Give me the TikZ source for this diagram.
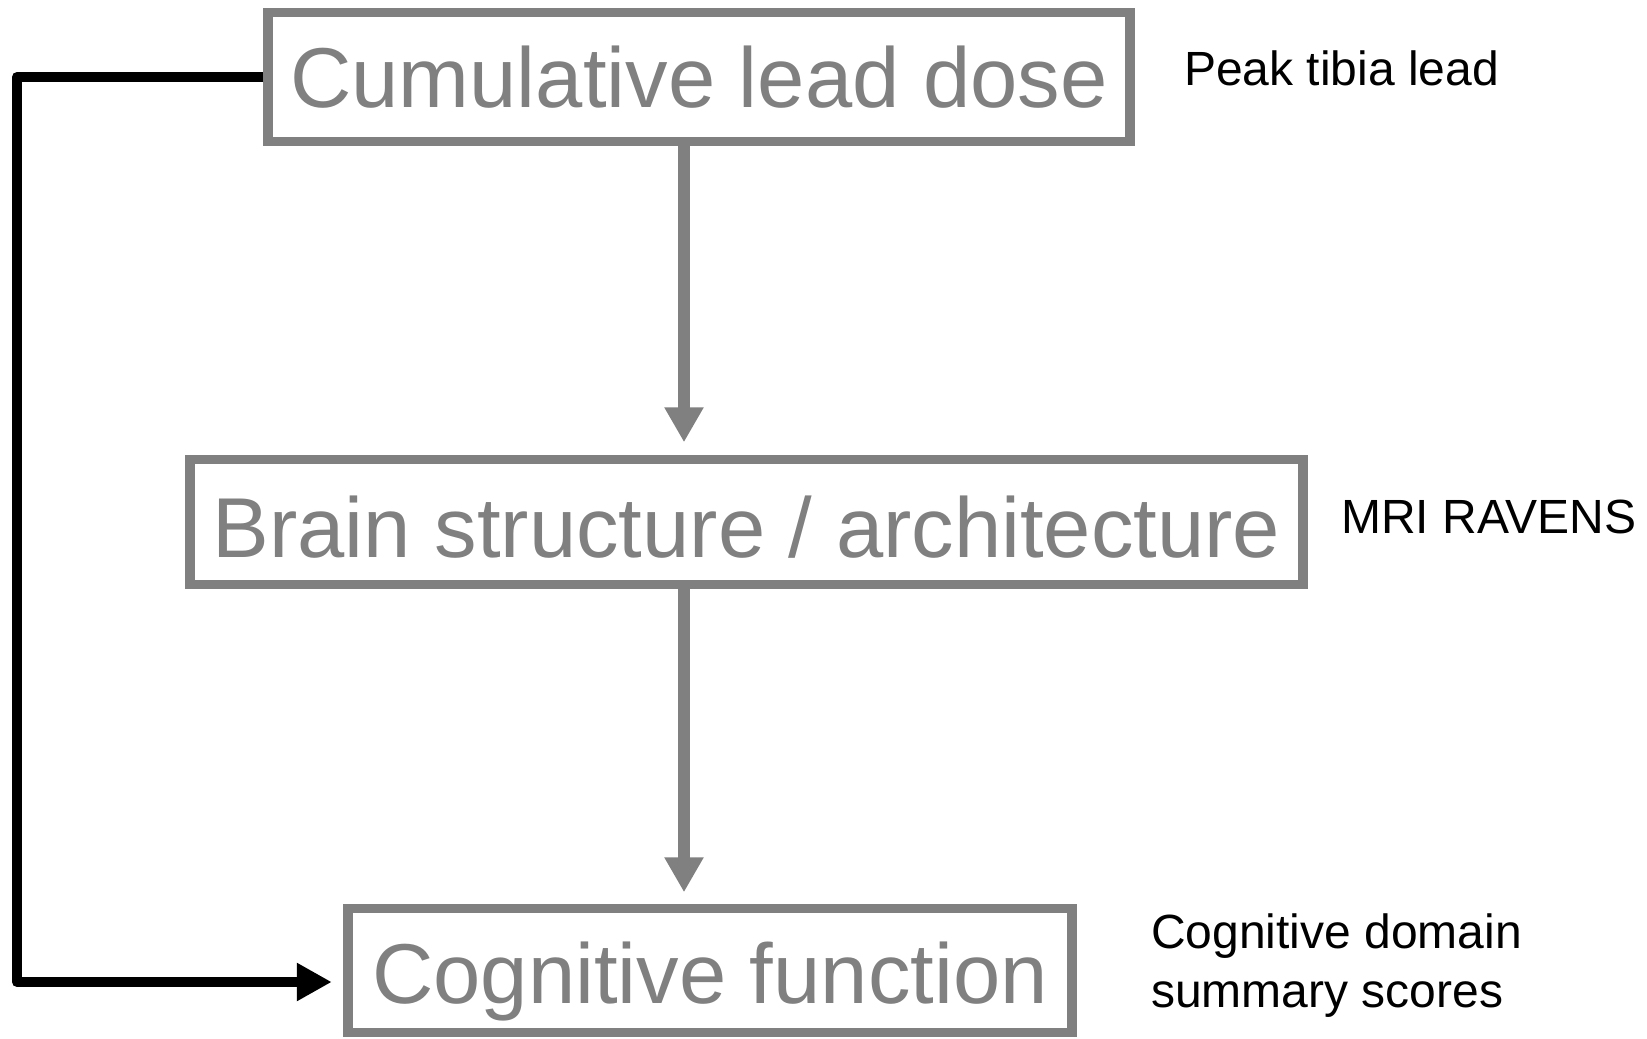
\documentclass[tikz,border=0pt]{standalone}
\usepackage{fontspec}
\setmainfont{Liberation Sans}
\usetikzlibrary{arrows.meta}
\definecolor{boxgray}{RGB}{128,128,128}
\tikzset{
  box/.style={draw=boxgray, line width=9.5pt, text=boxgray, font=\fontsize{85}{100}\selectfont,
    inner sep=0pt, text depth=0pt},
  side/.style={text=black, font=\fontsize{48}{59}\selectfont, inner sep=0pt, anchor=base west, align=left},
  grayarrow/.style={draw=boxgray, line width=12pt, -{Triangle[length=35pt,width=37pt]}},
  blackarrow/.style={draw=black, line width=10pt, line join=round, -{Triangle[length=35pt,width=36pt]}}
}
\begin{document}
\begin{tikzpicture}[x=1pt,y=-1pt]
\useasboundingbox (0,0) rectangle (1647,1039);
\node[box, text height=60pt, minimum width=862pt, minimum height=129pt] (dose) at (699,77) {Cumulative lead dose};
\node[box, text height=70pt, minimum width=1113pt, minimum height=125pt] (brain) at (746.5,522) {Brain structure / architecture};
\node[box, text height=66pt, minimum width=724pt, minimum height=124pt] (cog) at (710,970.5) {Cognitive function};
\node[side] (tibia) at (1184,85) {Peak tibia lead};
\node[side] (mri) at (1341,533) {MRI RAVENS};
\node[side] (scores) at (1151,1007) {Cognitive domain\\summary scores};
\coordinate (corner) at (17,77);
\draw[grayarrow, shorten >=12.5pt] (dose.south -| 684,0) -- (brain.north -| 684,0);
\draw[grayarrow, shorten >=11.5pt] (brain.south -| 684,0) -- (cog.north -| 684,0);
\draw[blackarrow, shorten >=11.5pt] (dose.west) -- (corner |- dose.west) |- ([yshift=-11.5pt]cog.west);
\end{tikzpicture}
\end{document}
